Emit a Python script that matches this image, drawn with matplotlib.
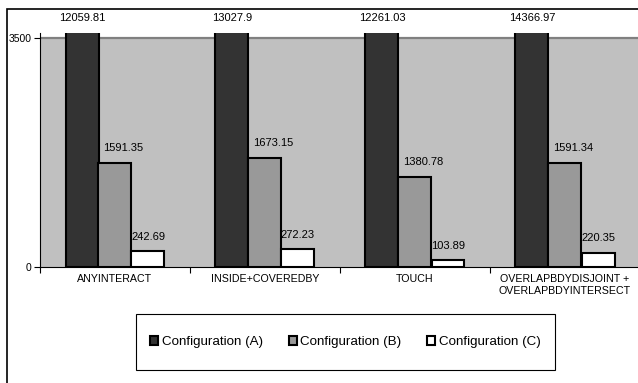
import matplotlib
matplotlib.use("Agg")
import matplotlib.pyplot as plt
from matplotlib.patches import Rectangle
import numpy as np

plt.rcParams['font.family'] = ['Liberation Sans', 'DejaVu Sans']

categories = ["ANYINTERACT", "INSIDE+COVEREDBY", "TOUCH", "OVERLAPBDYDISJOINT +\nOVERLAPBDYINTERSECT"]
series_names = ["Configuration (A)", "Configuration (B)", "Configuration (C)"]
config_a = [12059.81, 13027.9, 12261.03, 14366.97]
config_b = [1591.35, 1673.15, 1380.78, 1591.34]
config_c = [242.69, 272.23, 103.89, 220.35]
colors = ["#333333", "#999999", "#ffffff"]
y_ticks = [0, 3500]

W, H = 638, 383
fig = plt.figure(figsize=(W / 100, H / 100), dpi=100)

# outer chart border
fig.patches.append(Rectangle((7 / W, -0.05), 1.1, 1 - 9 / H + 0.05, transform=fig.transFigure,
                             fill=False, edgecolor='black', linewidth=1.2, zorder=0))

top_px = 33
ymax = 3500 * (267 - top_px) / (267 - 38)
ax = fig.add_axes([40 / W, 1 - 267 / H, 600 / W, (267 - top_px) / H])
ax.set_facecolor('none')
ax.set_xlim(0, 4)
ax.set_ylim(0, ymax)
ax.axhspan(0, 3500, color='#c0c0c0', zorder=0, linewidth=0)
ax.axhline(3500, color='#808080', linewidth=1.6, zorder=0.5)

x = np.arange(len(categories)) + 0.5
bw = 0.22
label_dx = [0, 6, 0]
for i, (vals, c) in enumerate(zip([config_a, config_b, config_c], colors)):
    xs = x + (i - 1) * bw
    ax.bar(xs, vals, width=bw, color=c, edgecolor='black', linewidth=1.5, zorder=2,
           label=series_names[i])
    for xi, v in zip(xs, vals):
        top = min(v, ymax)
        ax.annotate(str(v), xy=(xi, top), xytext=(label_dx[i], 10.5),
                    textcoords='offset points', ha='center', va='center', fontsize=8,
                    annotation_clip=False)

for s in ['top', 'right']:
    ax.spines[s].set_visible(False)
ax.spines['left'].set_linewidth(0.8)
ax.spines['bottom'].set_linewidth(0.8)
ax.spines['left'].set_zorder(3)
ax.spines['bottom'].set_zorder(3)

ax.set_yticks(y_ticks)
ax.set_yticklabels([str(t) for t in y_ticks], fontsize=7.5)
ax.tick_params(axis='y', length=4, width=0.8, pad=2)
ax.set_xticks(x)
ax.set_xticklabels(categories, fontsize=7.7, linespacing=1.3)
ax.tick_params(axis='x', which='major', length=0, pad=5)
ax.set_xticks(np.arange(0, 5), minor=True)
ax.tick_params(axis='x', which='minor', length=4, width=0.8)

# legend box
fig.patches.append(Rectangle((136 / W, 1 - 370 / H), (555 - 136) / W, 56 / H,
                             transform=fig.transFigure, fill=True, facecolor='white',
                             edgecolor='black', linewidth=0.8, zorder=1))
leg = fig.legend(loc='center', bbox_to_anchor=((136 + 555) / 2 / W, 1 - 342 / H), ncol=3,
                 fontsize=9.6, frameon=False,
                 handlelength=0.6, handleheight=0.6, handletextpad=0.3, columnspacing=1.9,
                 borderpad=0, borderaxespad=0)

fig.savefig("out.png", dpi=100)
